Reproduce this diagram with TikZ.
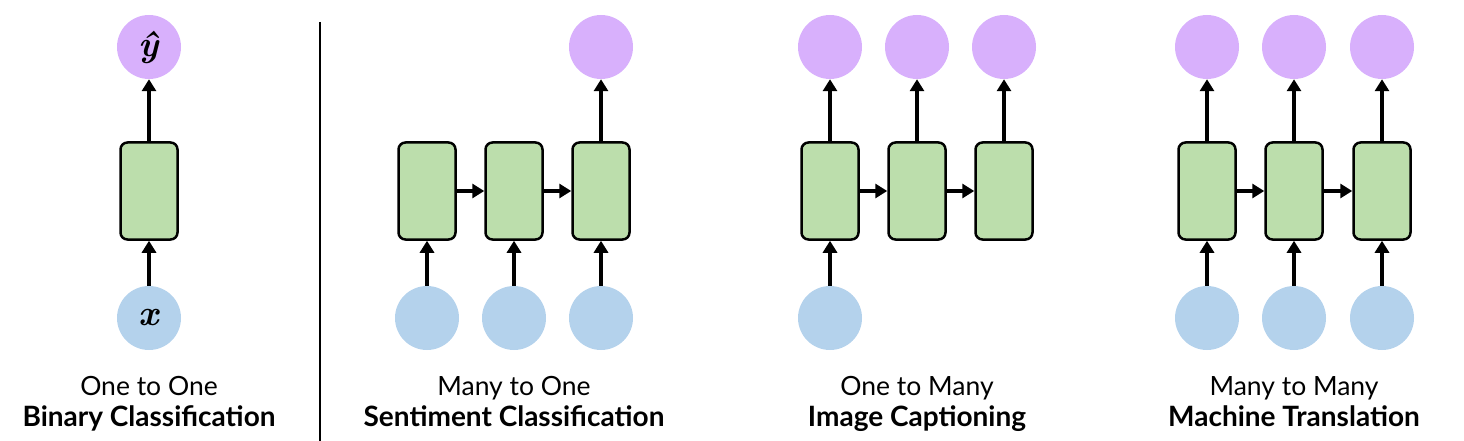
\documentclass[tikz,border=0pt]{standalone}
\usepackage{fontspec}
\setmainfont{Lato}
\newfontfamily\lmr{Latin Modern Roman}
\usetikzlibrary{arrows.meta}
\definecolor{outc}{RGB}{216,176,252}
\definecolor{inc}{RGB}{180,210,236}
\definecolor{cellc}{RGB}{188,222,172}
\tikzset{
  cell/.style={draw=black, fill=cellc, line width=2.5pt, rounded corners=7pt, minimum width=57pt, minimum height=97pt, inner sep=0pt},
  outn/.style={circle, fill=outc, minimum size=64pt, inner sep=0pt},
  inn/.style={circle, fill=inc, minimum size=64pt, inner sep=0pt},
  mathlbl/.style={font=\fontsize{36}{38}\selectfont\lmr\bfseries\itshape},
  conn/.style={line width=4pt, -{Triangle[length=12pt,width=14pt]}},
  lbl/.style={anchor=base, font=\fontsize{26.5}{28}\selectfont, inner sep=0pt},
  blbl/.style={anchor=base, font=\fontsize{28}{30}\selectfont\bfseries, inner sep=0pt}
}
\begin{document}
\begin{tikzpicture}[x=1pt,y=-1pt]
\useasboundingbox (0,0) rectangle (1464,441);
% panel 1
\node[cell] (c1) at (149,191) {};
\node[outn, mathlbl] (o1) at (149,47) {ŷ};
\node[inn, mathlbl] (i1) at (149,318) {x};
\draw[conn] (i1) -- (c1);
\draw[conn] (c1) -- (o1);
\node[lbl] (t1a) at (149,395) {One to One};
\node[blbl] (t1b) at (149,426) {Binary Classification};
% divider
\coordinate (d1) at (320,22);
\coordinate (d2) at (320,441);
\draw[line width=2.5pt] (d1) -- (d2);
% panel 2
\foreach \i/\x in {1/427,2/514,3/601} {
  \node[cell] (a\i) at (\x,191) {};
  \node[inn] (ai\i) at (\x,318) {};
  \draw[conn] (ai\i) -- (a\i);
}
\node[outn] (ao3) at (601,47) {};
\draw[conn] (a1) -- (a2);
\draw[conn] (a2) -- (a3);
\draw[conn] (a3) -- (ao3);
\node[lbl] (t2a) at (514,395) {Many to One};
\node[blbl] (t2b) at (514,426) {Sentiment Classification};
% panel 3
\foreach \i/\x in {1/830,2/917,3/1004} {
  \node[cell] (b\i) at (\x,191) {};
  \node[outn] (bo\i) at (\x,47) {};
  \draw[conn] (b\i) -- (bo\i);
}
\node[inn] (bi1) at (830,318) {};
\draw[conn] (bi1) -- (b1);
\draw[conn] (b1) -- (b2);
\draw[conn] (b2) -- (b3);
\node[lbl] (t3a) at (917,395) {One to Many};
\node[blbl] (t3b) at (917,426) {Image Captioning};
% panel 4
\foreach \i/\x in {1/1207,2/1294,3/1382} {
  \node[cell] (m\i) at (\x,191) {};
  \node[outn] (mo\i) at (\x,47) {};
  \node[inn] (mi\i) at (\x,318) {};
  \draw[conn] (mi\i) -- (m\i);
  \draw[conn] (m\i) -- (mo\i);
}
\draw[conn] (m1) -- (m2);
\draw[conn] (m2) -- (m3);
\node[lbl] (t4a) at (1294,395) {Many to Many};
\node[blbl] (t4b) at (1294,426) {Machine Translation};
\end{tikzpicture}
\end{document}
